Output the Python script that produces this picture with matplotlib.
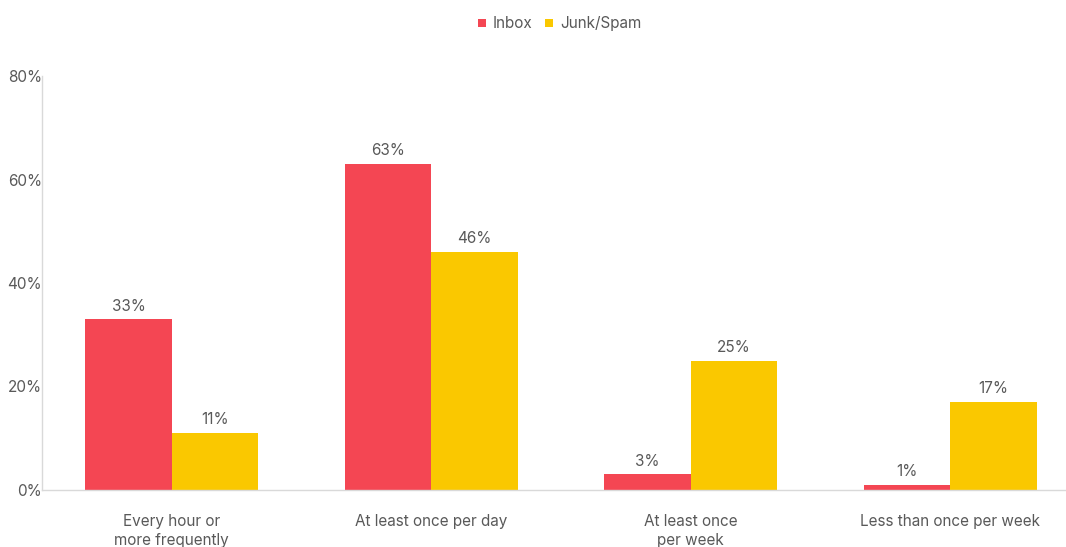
import numpy as np
import matplotlib.pyplot as plt

categories = ["Every hour or\nmore frequently", "At least once per day",
              "At least once\nper week", "Less than once per week"]
inbox = [33, 63, 3, 1]
junk = [11, 46, 25, 17]
series_names = ["Inbox", "Junk/Spam"]
colors = ["#F44653", "#FAC800"]
text_color = "#595959"

plt.rcParams['font.family'] = ['Inter', 'DejaVu Sans']

fig = plt.figure(figsize=(10.66, 5.47), dpi=100)
ax = fig.add_axes([42 / 1066, 57 / 547, 1 - 42 / 1066, 414 / 547])

x = np.arange(len(categories))
w = 1 / 3
bars_in = ax.bar(x - w / 2, inbox, w, color=colors[0], label=series_names[0])
bars_jk = ax.bar(x + w / 2, junk, w, color=colors[1], label=series_names[1])

for bars, vals in [(bars_in, inbox), (bars_jk, junk)]:
    for b, v in zip(bars, vals):
        ax.text(b.get_x() + b.get_width() / 2, v + 1.1, f"{v}%",
                ha='center', va='bottom', fontsize=11, color=text_color)

ax.set_ylim(0, 80)
ax.set_xlim(-0.5, (1066 - 42) / 259.5 - 0.5)
ax.set_yticks([0, 20, 40, 60, 80])
ax.set_yticklabels([f"{t}%" for t in [0, 20, 40, 60, 80]])
ax.set_xticks(x)
ax.set_xticklabels(categories, linespacing=1.35)
ax.tick_params(axis='both', length=0, labelsize=11, labelcolor=text_color)
ax.tick_params(axis='y', pad=0)
ax.tick_params(axis='x', pad=17)
for s in ['top', 'right']:
    ax.spines[s].set_visible(False)
for s in ['left', 'bottom']:
    ax.spines[s].set_color('#d9d9d9')
    ax.spines[s].set_linewidth(1)

fig.legend(loc='upper center', bbox_to_anchor=(0.525, 0.995), ncol=2, frameon=False,
           fontsize=11, labelcolor=text_color, handlelength=0.5, handleheight=0.5,
           handletextpad=0.45, columnspacing=0.85)

fig.savefig("out.png", dpi=100)
